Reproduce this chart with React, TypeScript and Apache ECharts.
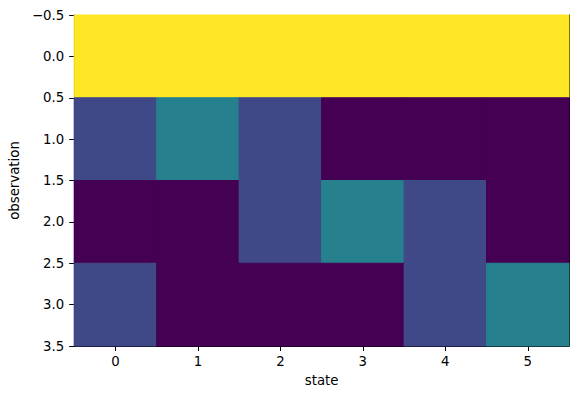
import React, { useEffect, useRef } from "react";
import * as echarts from "echarts";

const states = [0, 1, 2, 3, 4, 5];
const observations = [0, 1, 2, 3];
const row0 = [1, 1, 1, 1, 1, 1];
const row1 = [0.22, 0.43, 0.22, 0, 0, 0];
const row2 = [0, 0, 0.22, 0.43, 0.22, 0];
const row3 = [0.22, 0, 0, 0, 0.22, 0.43];
const matrix = [row0, row1, row2, row3];
const yTicks = [-0.5, 0, 0.5, 1, 1.5, 2, 2.5, 3, 3.5];
const viridis = [
  "#440154", "#482475", "#414487", "#355f8d", "#2a788e", "#21918c",
  "#22a884", "#44bf70", "#7ad151", "#bddf26", "#fde725",
];

export default function App() {
  const ref = useRef<HTMLDivElement>(null);
  useEffect(() => {
    if (!ref.current) return;
    const chart = echarts.init(ref.current, null, { renderer: "svg" });
    const data: number[][] = [];
    observations.forEach((o, r) => {
      states.forEach((s, c) => data.push([s, o, matrix[r][c]]));
    });
    const font = "DejaVu Sans";
    const fs = 13.3;
    const fmtY = (v: number) => (v < 0 ? "\u2212" : "") + Math.abs(v).toFixed(1);
    chart.setOption({
      animation: false,
      textStyle: { fontFamily: font },
      grid: { left: 73, right: 10, top: 15, bottom: 53, containLabel: false },
      visualMap: {
        show: false,
        type: "continuous",
        min: 0,
        max: 1,
        dimension: 2,
        seriesIndex: 0,
        inRange: { color: viridis },
      },
      xAxis: [
        {
          type: "value",
          min: -0.5,
          max: 5.5,
          position: "bottom",
          name: "state",
          nameLocation: "middle",
          nameGap: 28,
          nameTextStyle: { color: "#000", fontSize: fs, fontFamily: font },
          axisLine: { onZero: false, lineStyle: { color: "#000", width: 1 } },
          axisTick: { show: true, length: 5, customValues: states, lineStyle: { color: "#000" } },
          axisLabel: { customValues: states, color: "#000", fontSize: fs, margin: 9, fontFamily: font },
          splitLine: { show: false },
        },
        {
          type: "value",
          min: -0.5,
          max: 5.5,
          position: "top",
          axisLine: { onZero: false, lineStyle: { color: "#000", width: 1 } },
          axisTick: { show: false },
          axisLabel: { show: false },
          splitLine: { show: false },
        },
      ],
      yAxis: [
        {
          type: "value",
          min: -0.5,
          max: 3.5,
          interval: 0.5,
          inverse: true,
          position: "left",
          name: "observation",
          nameLocation: "middle",
          nameGap: 46,
          nameTextStyle: { color: "#000", fontSize: fs, fontFamily: font },
          axisLine: { onZero: false, lineStyle: { color: "#000", width: 1 } },
          axisTick: { show: true, length: 5, customValues: yTicks, lineStyle: { color: "#000" } },
          axisLabel: { customValues: yTicks, color: "#000", fontSize: fs, margin: 10, fontFamily: font, formatter: fmtY },
          splitLine: { show: false },
        },
        {
          type: "value",
          min: -0.5,
          max: 3.5,
          inverse: true,
          position: "right",
          axisLine: { onZero: false, lineStyle: { color: "#000", width: 1 } },
          axisTick: { show: false },
          axisLabel: { show: false },
          splitLine: { show: false },
        },
      ],
      series: [
        {
          type: "custom",
          xAxisIndex: 0,
          yAxisIndex: 0,
          encode: { x: 0, y: 1 },
          data,
          z: 1,
          renderItem: (params: any, api: any) => {
            const x = api.value(0);
            const y = api.value(1);
            const p1 = api.coord([x - 0.5, y - 0.5]);
            const p2 = api.coord([x + 0.5, y + 0.5]);
            const c = api.visual("color");
            return {
              type: "rect",
              shape: {
                x: Math.min(p1[0], p2[0]),
                y: Math.min(p1[1], p2[1]),
                width: Math.abs(p2[0] - p1[0]),
                height: Math.abs(p2[1] - p1[1]),
              },
              style: { fill: c, stroke: c, lineWidth: 1 },
            };
          },
        },
      ],
    });
    return () => chart.dispose();
  }, []);
  return <div ref={ref} style={{ width: 579, height: 399, position: "absolute", left: 0, top: 0 }} />;
}
